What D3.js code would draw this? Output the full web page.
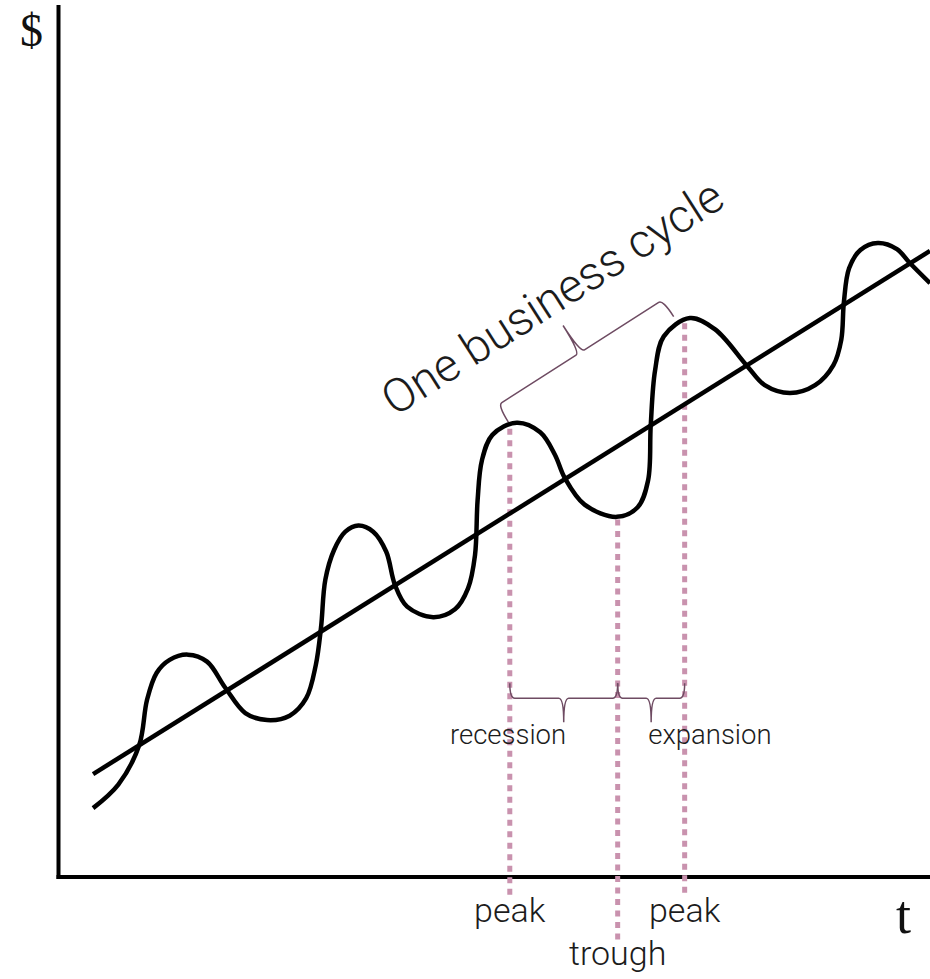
<!DOCTYPE html>
<meta charset="utf-8">
<style>
body { margin: 0; background: #fff; }
svg { display: block; }
.lbl { font-family: Roboto, "Open Sans", sans-serif; font-weight: 300; fill: #1c1c1c; }
.axlbl { font-family: "Liberation Serif", "DejaVu Serif", serif; fill: #111; }
</style>
<svg width="930" height="979"></svg>
<script src="https://d3js.org/d3.v7.min.js"></script>
<script>
// time (t) and money ($) in arbitrary units, 0..100
var trendT = [3.8, 100];
var trendV = [11.8, 71.8];

var waveT = [3.8, 6.7, 9.1, 10.0, 11.1, 12.6, 14.7, 16.9, 19.0, 21.3, 23.8, 26.4, 28.3, 29.4, 30.0,
             30.5, 31.5, 32.8, 34.3, 36.0, 37.5, 38.5, 39.9, 42.9, 45.4, 46.9, 47.7, 48.0, 48.5, 49.7,
             52.5, 55.2, 56.9, 58.0, 60.3, 64.0, 66.4, 67.6, 67.9, 68.4, 69.4, 72.4, 75.3, 78.9, 81.0,
             83.9, 86.8, 88.9, 89.8, 90.1, 90.7, 92.0, 94.0, 96.2, 97.6, 100];
var waveV = [7.9, 10.6, 15.1, 20.3, 23.4, 24.9, 25.5, 24.7, 21.7, 18.8, 18.0, 18.5, 20.5, 24.3, 28.6,
             34.1, 37.5, 39.6, 40.3, 39.6, 37.3, 33.5, 31.0, 29.8, 30.7, 33.1, 36.9, 43.2, 47.8, 50.7,
             52.1, 51.0, 48.4, 45.8, 42.7, 41.3, 42.4, 45.5, 51.8, 58.1, 62.0, 64.1, 62.8, 58.7, 56.4,
             55.5, 56.4, 58.7, 61.6, 65.9, 69.8, 71.9, 72.7, 72.0, 70.5, 68.1];

// dotted guides: peak, trough, peak
var markerT = [51.7, 64.1, 71.8];
var markerTop = [51.4, 41.0, 63.5];
var markerBottom = [-2.2, -7.6, -1.8];
var markerLabels = ["peak", "trough", "peak"];
var markerLabelV = [-5.2, -10.1, -5.2];

// braces
var cycleBrace = {t0: 50.3, v0: 54.1, t1: 69.3, v1: 66.2};
var phaseV = 20.5;
var phaseLabels = ["recession", "expansion"];
var phaseLabelT = [51.5, 74.7];
var phaseLabelV = 15.3;

var svg = d3.select("svg");
var x = d3.scaleLinear().domain([0, 100]).range([60, 930]);
var y = d3.scaleLinear().domain([0, 100]).range([877, 5]);

// axes
svg.append("line").attr("x1", x(0) - 1.5).attr("x2", x(0) - 1.5)
    .attr("y1", y(100)).attr("y2", y(0) + 2)
    .attr("stroke", "#000").attr("stroke-width", 4);
svg.append("line").attr("x1", x(0) - 3.5).attr("x2", x(100))
    .attr("y1", y(0)).attr("y2", y(0))
    .attr("stroke", "#000").attr("stroke-width", 4);
svg.append("text").attr("class", "axlbl").attr("x", 20).attr("y", 46)
    .style("font-size", "46px").text("$");
svg.append("text").attr("class", "axlbl").attr("x", 896).attr("y", 933)
    .style("font-size", "54px").text("t");

// dotted guides
svg.selectAll(".guide").data(markerT).enter().append("line")
    .attr("class", "guide")
    .attr("x1", function(d) { return x(d); }).attr("x2", function(d) { return x(d); })
    .attr("y1", function(d, i) { return y(markerTop[i]); })
    .attr("y2", function(d, i) { return y(markerBottom[i]); })
    .attr("stroke", "#c992ae").attr("stroke-width", 5)
    .attr("stroke-dasharray", "6,5.5");

svg.selectAll(".mlbl").data(markerLabels).enter().append("text")
    .attr("class", "lbl mlbl")
    .attr("x", function(d, i) { return x(markerT[i]); })
    .attr("y", function(d, i) { return y(markerLabelV[i]); })
    .attr("text-anchor", "middle").style("font-size", "34px")
    .text(function(d) { return d; });

// trend line and cycle
var line = d3.line().x(function(d) { return x(d[0]); }).y(function(d) { return y(d[1]); });
svg.append("path").datum(d3.zip(trendT, trendV)).attr("d", line)
    .attr("fill", "none").attr("stroke", "#000").attr("stroke-width", 4.5);
svg.append("path").datum(d3.zip(waveT, waveV))
    .attr("d", line.curve(d3.curveCatmullRom.alpha(0.5)))
    .attr("fill", "none").attr("stroke", "#000").attr("stroke-width", 4.5)
    .attr("stroke-linejoin", "round");

// curly brace between two pixel points; side picks which way the tip points
function brace(p0, p1, side, tip, hook) {
    var dx = p1[0] - p0[0], dy = p1[1] - p0[1], len = Math.hypot(dx, dy);
    var u = [dx / len, dy / len], n = [side * u[1], -side * u[0]];
    var m = [(p0[0] + p1[0]) / 2, (p0[1] + p1[1]) / 2], r = 5;
    function pt(a, su, sn) { return [a[0] + u[0] * su + n[0] * sn, a[1] + u[1] * su + n[1] * sn]; }
    var p = d3.path(), a;
    a = pt(p0, 0, -hook); p.moveTo(a[0], a[1]);
    a = pt(p0, r, 0); p.quadraticCurveTo(p0[0], p0[1], a[0], a[1]);
    a = pt(m, -r, 0); p.lineTo(a[0], a[1]);
    a = pt(m, 0, tip); p.quadraticCurveTo(m[0], m[1], a[0], a[1]);
    a = pt(m, r, 0); p.quadraticCurveTo(m[0], m[1], a[0], a[1]);
    a = pt(p1, -r, 0); p.lineTo(a[0], a[1]);
    a = pt(p1, 0, -hook); p.quadraticCurveTo(p1[0], p1[1], a[0], a[1]);
    return p.toString();
}
var braceColor = "#6e4b62";
svg.append("path")
    .attr("d", brace([x(cycleBrace.t0), y(cycleBrace.v0)], [x(cycleBrace.t1), y(cycleBrace.v1)], 1, 32, 20))
    .attr("fill", "none").attr("stroke", braceColor).attr("stroke-width", 1.5);
[[markerT[0], markerT[1]], [markerT[1], markerT[2]]].forEach(function(s) {
    svg.append("path")
        .attr("d", brace([x(s[0]), y(phaseV)], [x(s[1]), y(phaseV)], -1, 24, 15))
        .attr("fill", "none").attr("stroke", braceColor).attr("stroke-width", 1.5);
});

svg.selectAll(".plbl").data(phaseLabels).enter().append("text")
    .attr("class", "lbl plbl")
    .attr("x", function(d, i) { return x(phaseLabelT[i]); })
    .attr("y", y(phaseLabelV))
    .attr("text-anchor", "middle").style("font-size", "27.5px")
    .text(function(d) { return d; });

// rotated label over the cycle brace
var ang = Math.atan2(y(cycleBrace.v1) - y(cycleBrace.v0), x(cycleBrace.t1) - x(cycleBrace.t0)) * 180 / Math.PI;
svg.append("text").attr("class", "lbl")
    .attr("transform", "translate(561,311) rotate(" + ang + ")")
    .attr("text-anchor", "middle").style("font-size", "47px")
    .text("One business cycle");
</script>
